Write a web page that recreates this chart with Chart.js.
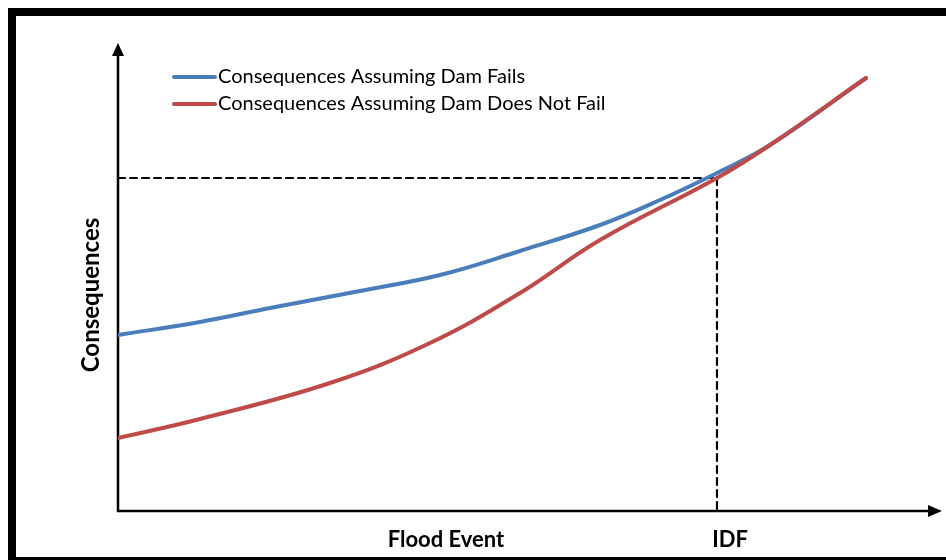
<!DOCTYPE html>
<html>
<head>
<meta charset="utf-8">
<script src="https://cdn.jsdelivr.net/npm/chart.js@4.4.1/dist/chart.umd.min.js"></script>
<style>
  html, body { margin: 0; padding: 0; background: #fff; }
  #wrap { width: 946px; height: 560px; position: relative; }
</style>
</head>
<body>
<div id="wrap"><canvas id="damChart" width="946" height="560"></canvas></div>
<script>
// flood event magnitude (arbitrary units)
const failX       = [0, 82, 152, 242, 322, 402, 482, 542, 599, 652, 748];
const failCons    = [176, 189, 203, 220, 236, 260, 286, 311, 338, 366, 433];
const noFailX     = [0, 82, 212, 312, 402, 482, 599, 652, 748];
const noFailCons  = [73, 92, 128, 168, 218, 271, 333, 366, 433];
const seriesNames = ['Consequences Assuming Dam Fails', 'Consequences Assuming Dam Does Not Fail'];
const idfX = 599;     // inflow design flood
const idfY = 333;
const xMax = 824, yMax = 468;

const BLUE = '#4a7ebb';
const RED  = '#be4b48';
const FONT = 'Lato, "Open Sans", sans-serif';

const pts = (xs, ys) => xs.map((x, i) => ({ x, y: ys[i] }));

// frame, axes with arrows, legend and axis labels
const decorations = {
  id: 'decorations',
  beforeDraw(chart) {
    const c = chart.ctx;
    c.save();
    c.strokeStyle = '#000';
    c.lineWidth = 8;
    c.strokeRect(12, 12, 960, 549);
    c.restore();
  },
  beforeDatasetsDraw(chart) {
    const c = chart.ctx;
    const { x, y } = chart.scales;
    const x0 = x.getPixelForValue(0), y0 = y.getPixelForValue(0);
    const xEnd = x.getPixelForValue(xMax), yEnd = y.getPixelForValue(yMax);
    c.save();
    c.strokeStyle = '#000';
    c.fillStyle = '#000';
    c.lineWidth = 2.5;
    c.beginPath();
    c.moveTo(x0, yEnd + 10);
    c.lineTo(x0, y0);
    c.lineTo(xEnd - 10, y0);
    c.stroke();
    // arrow heads
    c.beginPath();
    c.moveTo(x0, yEnd);
    c.lineTo(x0 - 6, yEnd + 13);
    c.lineTo(x0 + 6, yEnd + 13);
    c.closePath();
    c.fill();
    c.beginPath();
    c.moveTo(xEnd, y0);
    c.lineTo(xEnd - 14, y0 - 6);
    c.lineTo(xEnd - 14, y0 + 6);
    c.closePath();
    c.fill();
    c.restore();
  },
  afterDraw(chart) {
    const c = chart.ctx;
    const { x } = chart.scales;
    c.save();
    // legend
    const rows = [[BLUE, 77], [RED, 104]];
    rows.forEach(([col, ly], i) => {
      c.strokeStyle = col;
      c.lineWidth = 4;
      c.lineCap = 'round';
      c.beginPath();
      c.moveTo(174, ly);
      c.lineTo(215, ly);
      c.stroke();
      c.fillStyle = '#000';
      c.font = '20px ' + FONT;
      c.textBaseline = 'middle';
      c.textAlign = 'left';
      c.fillText(seriesNames[i], 218, ly);
    });
    // axis labels
    c.font = 'bold 22px ' + FONT;
    c.textAlign = 'center';
    c.fillText('Flood Event', 446, 540);
    c.fillText('IDF', x.getPixelForValue(idfX) + 13, 540);
    c.font = 'bold 24px ' + FONT;
    c.translate(91, 295);
    c.rotate(-Math.PI / 2);
    c.fillText('Consequences', 0, 0);
    c.restore();
  }
};

new Chart(document.getElementById('damChart'), {
  type: 'line',
  data: {
    datasets: [
      { label: seriesNames[1], data: pts(noFailX, noFailCons), borderColor: RED, borderWidth: 4 },
      { label: seriesNames[0], data: pts(failX, failCons), borderColor: BLUE, borderWidth: 4 },
      { label: 'idf-h', data: [{ x: 0, y: idfY }, { x: idfX, y: idfY }],
        borderColor: '#000', borderWidth: 2.2, borderDash: [7, 5], tension: 0 },
      { label: 'idf-v', data: [{ x: idfX, y: idfY }, { x: idfX, y: 0 }],
        borderColor: '#000', borderWidth: 2.2, borderDash: [7, 5], tension: 0 }
    ]
  },
  options: {
    responsive: false,
    animation: false,
    layout: { padding: { left: 118, top: 43, right: 4, bottom: 49 } },
    datasets: {
      line: { pointRadius: 0, fill: false, tension: 0.4, borderCapStyle: 'round', borderJoinStyle: 'round' }
    },
    scales: {
      x: { type: 'linear', min: 0, max: xMax, display: false },
      y: { type: 'linear', min: 0, max: yMax, display: false }
    },
    plugins: {
      legend: { display: false },
      tooltip: { enabled: false }
    }
  },
  plugins: [decorations]
});
</script>
</body>
</html>
